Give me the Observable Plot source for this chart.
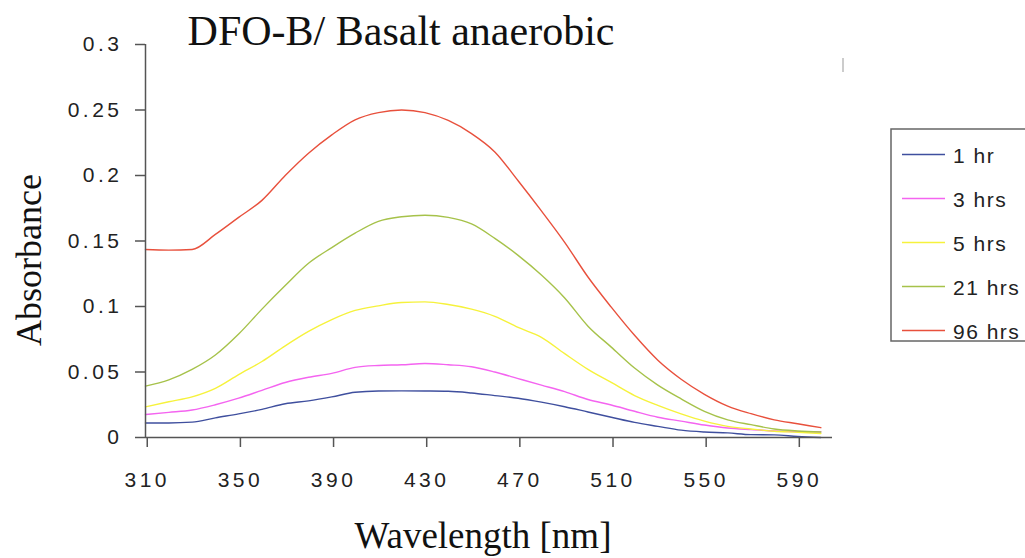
<!DOCTYPE html>
<html>
<head>
<meta charset="utf-8">
<script src="https://cdn.jsdelivr.net/npm/d3@7"></script>
<script src="https://cdn.jsdelivr.net/npm/@observablehq/plot@0.6"></script>
<style>
  html, body { margin: 0; padding: 0; background: #fff; overflow: hidden; }
  #chart svg { display: block; }
  #chart g[aria-label$="tick label"] text { letter-spacing: 3.5px; }
</style>
</head>
<body>
<div id="chart"></div>
<script>
// ---- data ----
const wavelengths = [310,320,330,340,350,360,370,380,390,400,410,420,430,440,450,460,470,480,490,500,510,520,530,540,550,560,570,580,590,600];
const seriesNames = ["1 hr", "3 hrs", "5 hrs", "21 hrs", "96 hrs"];
const seriesColors = ["#3f4f9e", "#f464f0", "#f6f23c", "#a6c24a", "#e8503c"];
const hr1  = [0.0111,0.0111,0.0117,0.0150,0.0180,0.0215,0.0258,0.0280,0.0310,0.0345,0.0355,0.0356,0.0355,0.0353,0.0340,0.0320,0.0300,0.0270,0.0235,0.0195,0.0155,0.0115,0.0085,0.0056,0.0042,0.0035,0.0022,0.0020,0.0008,0.0000];
const hr3  = [0.0176,0.0192,0.0210,0.0250,0.0300,0.0360,0.0420,0.0460,0.0490,0.0535,0.0550,0.0555,0.0565,0.0555,0.0540,0.0500,0.0450,0.0400,0.0350,0.0290,0.0248,0.0200,0.0155,0.0125,0.0095,0.0072,0.0060,0.0050,0.0045,0.0043];
const hr5  = [0.0234,0.0273,0.0310,0.0375,0.0480,0.0580,0.0700,0.0810,0.0900,0.0970,0.1005,0.1030,0.1035,0.1015,0.0980,0.0925,0.0840,0.0765,0.0640,0.0520,0.0420,0.0320,0.0245,0.0180,0.0125,0.0085,0.0065,0.0048,0.0040,0.0030];
const hr21 = [0.0392,0.0440,0.0520,0.0630,0.0790,0.0980,0.1160,0.1330,0.1450,0.1560,0.1650,0.1685,0.1697,0.1680,0.1630,0.1520,0.1390,0.1240,0.1065,0.0850,0.0690,0.0530,0.0400,0.0295,0.0200,0.0135,0.0098,0.0065,0.0050,0.0042];
const hr96 = [0.1435,0.1430,0.1435,0.1550,0.1680,0.1810,0.2000,0.2170,0.2310,0.2425,0.2480,0.2500,0.2480,0.2420,0.2320,0.2180,0.1960,0.1730,0.1490,0.1225,0.0995,0.0780,0.0590,0.0445,0.0330,0.0240,0.0182,0.0135,0.0105,0.0075];
const xTicks = [310,350,390,430,470,510,550,590];
const yTicks = [0,0.05,0.1,0.15,0.2,0.25,0.3];
const titleText = "DFO-B/ Basalt anaerobic";
const xLabel = "Wavelength [nm]";
const yLabel = "Absorbance";

// build long table
const allSeries = [hr1, hr3, hr5, hr21, hr96];
const rows = [];
allSeries.forEach((vals, i) => {
  vals.forEach((v, j) => rows.push({series: seriesNames[i], wl: wavelengths[j], v}));
});

const W = 1025, H = 558;
const axisColor = "#555";
const sans = "'Liberation Sans', Arial, sans-serif";
const serif = "'Liberation Serif', 'Times New Roman', serif";

const chart = Plot.plot({
  width: W, height: H,
  marginLeft: 145, marginRight: 193, marginTop: 44, marginBottom: 121,
  style: {fontFamily: sans, color: "#222", background: "#fff"},
  x: {domain: [310, 605]},
  y: {domain: [0, 0.3]},
  color: {domain: seriesNames, range: seriesColors},
  marks: [
    Plot.line(rows, {x: "wl", y: "v", z: "series", stroke: "series", strokeWidth: 1.4, curve: "monotone-x"}),
    Plot.ruleX([310], {stroke: axisColor, strokeWidth: 1.5}),
    Plot.ruleY([0], {stroke: axisColor, strokeWidth: 1.5}),
    Plot.axisY({ticks: yTicks, tickSize: 10, tickPadding: 13, stroke: axisColor, strokeWidth: 1.5,
      tickFormat: d => d === 0 ? "0" : String(+d.toFixed(2)), fontSize: 21, label: null}),
    Plot.axisX({ticks: xTicks, tickSize: 10, tickPadding: 25, stroke: axisColor, strokeWidth: 1.5,
      tickFormat: d => String(d), fontSize: 21, dx: 1.75, label: null})
  ]
});
document.getElementById("chart").appendChild(chart);

const svg = d3.select(chart);
// title
svg.append("text").attr("x", 401).attr("y", 45).attr("text-anchor", "middle")
  .attr("font-family", serif).attr("font-size", 42).attr("fill", "#111").text(titleText);
// y label
svg.append("text").attr("transform", "translate(41,260) rotate(-90)").attr("text-anchor", "middle")
  .attr("font-family", serif).attr("font-size", 36).attr("fill", "#111").text(yLabel);
// x label
svg.append("text").attr("x", 483).attr("y", 548).attr("text-anchor", "middle")
  .attr("font-family", serif).attr("font-size", 37).attr("fill", "#111").text(xLabel);
// stray mark seen in the reference
svg.append("line").attr("x1", 843).attr("x2", 843).attr("y1", 58).attr("y2", 72)
  .attr("stroke", "#bbb").attr("stroke-width", 1.5);

// legend
const lg = svg.append("g");
lg.append("rect").attr("x", 891).attr("y", 129).attr("width", 170).attr("height", 212)
  .attr("fill", "#fff").attr("stroke", "#666").attr("stroke-width", 1.5);
seriesNames.forEach((name, i) => {
  const y = 154.5 + i * 44;
  lg.append("line").attr("x1", 902).attr("x2", 945).attr("y1", y).attr("y2", y)
    .attr("stroke", seriesColors[i]).attr("stroke-width", 1.6);
  lg.append("text").attr("x", 953).attr("y", y + 8).attr("text-anchor", "start").attr("font-family", sans)
    .attr("font-size", 21).attr("letter-spacing", "1.5px").attr("fill", "#222").text(name);
});
</script>
</body>
</html>
